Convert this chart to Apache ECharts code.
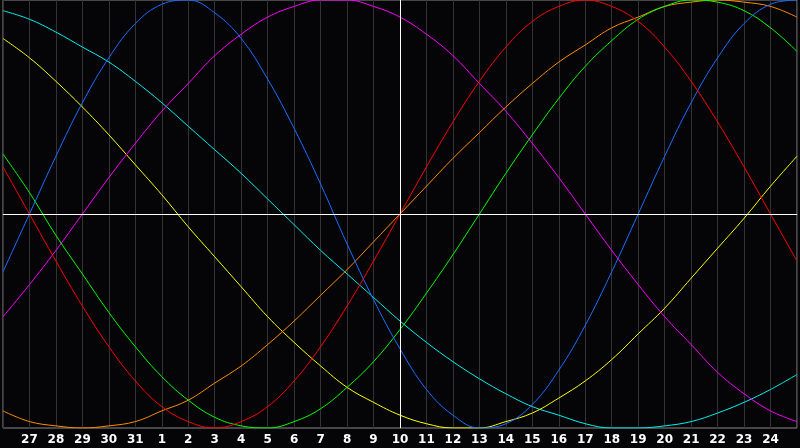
<!DOCTYPE html>
<html>
<head>
<meta charset="utf-8">
<script src="https://cdn.jsdelivr.net/npm/echarts@6/dist/echarts.min.js"></script>
<style>
  html, body { margin: 0; padding: 0; background: #050507; }
  #chart { width: 800px; height: 448px; }
</style>
</head>
<body>
<div id="chart"></div>
<script>
// days shown on the x axis (first and last sit on the frame, no label)
var days = ['26','27','28','29','30','31','1','2','3','4','5','6','7','8','9','10',
            '11','12','13','14','15','16','17','18','19','20','21','22','23','24','25'];

// curve values, one per day (-1 .. 1)
var physical = [-0.27,0,0.27,0.52,0.73,0.89,0.98,1.00,0.94,0.82,0.63,0.40,0.14,-0.14,-0.40,-0.63,
                -0.82,-0.94,-1.00,-0.98,-0.89,-0.73,-0.52,-0.27,0,0.27,0.52,0.73,0.89,0.98,1.00];
var emotional = [0.22,0,-0.22,-0.43,-0.62,-0.78,-0.90,-0.97,-1,-0.97,-0.90,-0.78,-0.62,-0.43,-0.22,0,
                 0.22,0.43,0.62,0.78,0.90,0.97,1,0.97,0.90,0.78,0.62,0.43,0.22,0,-0.22];
var intellectual = [0.28,0.10,-0.10,-0.28,-0.46,-0.62,-0.76,-0.87,-0.95,-0.99,-1.00,-0.97,-0.91,-0.81,-0.69,-0.54,
                    -0.37,-0.19,0,0.19,0.37,0.54,0.69,0.81,0.91,0.97,1.00,0.99,0.95,0.87,0.76];
var intuitive = [-0.48,-0.33,-0.17,0,0.17,0.33,0.48,0.61,0.74,0.84,0.92,0.97,1.00,1.00,0.97,0.92,
                 0.84,0.74,0.61,0.48,0.33,0.17,0,-0.17,-0.33,-0.48,-0.61,-0.74,-0.84,-0.92,-0.97];
var aesthetic = [0.82,0.73,0.62,0.50,0.37,0.23,0.09,-0.06,-0.20,-0.34,-0.48,-0.60,-0.71,-0.81,-0.88,-0.94,
                 -0.98,-1.00,-1.00,-0.97,-0.93,-0.86,-0.78,-0.68,-0.56,-0.44,-0.30,-0.16,-0.02,0.13,0.27];
var awareness = [-0.92,-0.97,-0.99,-1,-0.99,-0.97,-0.92,-0.87,-0.79,-0.71,-0.61,-0.50,-0.38,-0.26,-0.13,0,
                 0.13,0.26,0.38,0.50,0.61,0.71,0.79,0.87,0.92,0.97,0.99,1,0.99,0.97,0.92];
var spiritual = [0.95,0.91,0.85,0.78,0.71,0.62,0.52,0.41,0.30,0.19,0.07,-0.05,-0.17,-0.28,-0.39,-0.50,
                 -0.60,-0.69,-0.77,-0.84,-0.90,-0.94,-0.98,-1.00,-1.00,-0.99,-0.97,-0.93,-0.88,-0.82,-0.75];

function curve(name, data, color) {
    return {
        name: name,
        type: 'line',
        data: data,
        smooth: 0.4,
        symbol: 'none',
        silent: true,
        lineStyle: { color: color, width: 1 }
    };
}

var series = [
    curve('spiritual', spiritual, '#00f0f0'),
    curve('aesthetic', aesthetic, '#ffff00'),
    curve('intuitive', intuitive, '#ff00ff'),
    curve('awareness', awareness, '#ff8c00'),
    curve('intellectual', intellectual, '#00ff00'),
    curve('physical', physical, '#1a6fff'),
    curve('emotional', emotional, '#ff0000')
];
// white cross through the centre day
series[0].markLine = {
    silent: true,
    symbol: 'none',
    label: { show: false },
    lineStyle: { color: '#ffffff', width: 1, type: 'solid' },
    data: [ { xAxis: '10' }, { yAxis: 0 } ]
};

var chart = echarts.init(document.getElementById('chart'));
chart.setOption({
    animation: false,
    backgroundColor: '#050507',
    grid: {
        show: true,
        left: 0, right: 0, top: 0, bottom: 20,
        borderColor: '#8a8a8a',
        borderWidth: 1
    },
    xAxis: {
        type: 'category',
        boundaryGap: false,
        data: days,
        axisLine: { lineStyle: { color: '#8a8a8a' } },
        axisTick: { show: false },
        axisLabel: {
            interval: 0,
            color: '#ffffff',
            fontFamily: 'DejaVu Sans',
            fontWeight: 'bold',
            fontSize: 12,
            margin: 6,
            formatter: function (v, i) {
                return (i === 0 || i === days.length - 1) ? '' : v;
            }
        },
        splitLine: { show: true, interval: 0, lineStyle: { color: '#333336', width: 1 } }
    },
    yAxis: {
        type: 'value',
        min: -1,
        max: 1,
        show: false,
        splitLine: { show: false }
    },
    series: series
});
</script>
</body>
</html>
